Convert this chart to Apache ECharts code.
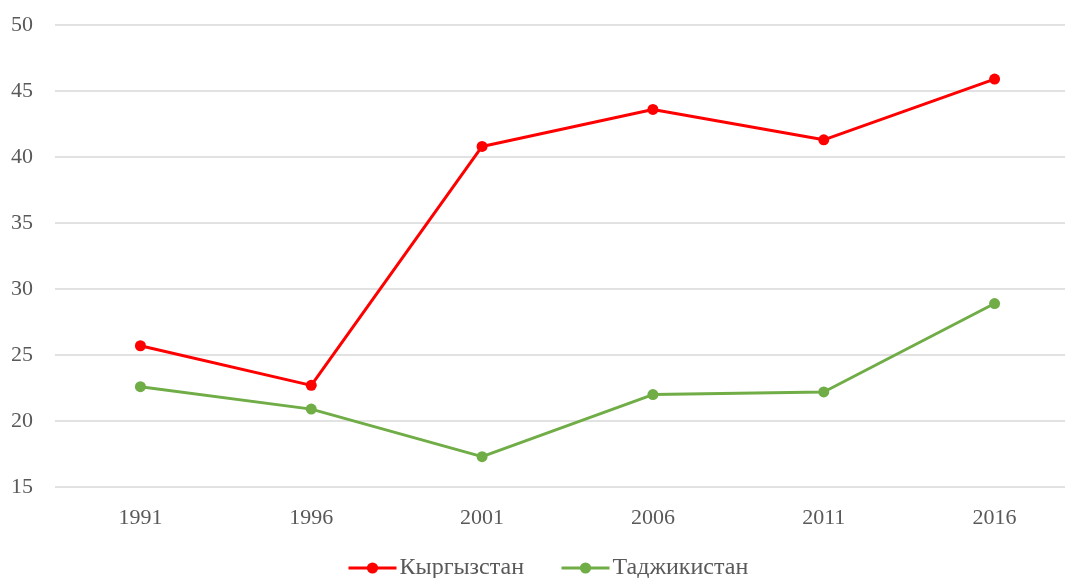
<!DOCTYPE html>
<html><head><meta charset="utf-8">
<script src="https://cdn.jsdelivr.net/npm/echarts@6/dist/echarts.min.js"></script>
<style>html,body{margin:0;padding:0;background:#fff;overflow:hidden}#c{width:1080px;height:578px}</style>
</head><body><div id="c"></div>
<script>
const categories = ['1991','1996','2001','2006','2011','2016'];
const kyrgyzstan = [25.7, 22.7, 40.8, 43.6, 41.3, 45.9];
const tajikistan = [22.6, 20.9, 17.3, 22.0, 22.2, 28.9];
const seriesNames = ['Кыргызстан', 'Таджикистан'];
const yTicks = {min: 15, max: 50, interval: 5};

const font = '"Liberation Serif", "Times New Roman", serif';
const chart = echarts.init(document.getElementById('c'));
chart.setOption({
  animation: false,
  backgroundColor: '#fff',
  grid: {left: 55, top: 25, right: 0, height: 462},
  legend: {
    top: 551, left: 342, itemWidth: 48, itemHeight: 14, itemGap: 36,
    lineStyle: {width: 3},
    textStyle: {fontFamily: font, fontSize: 24, color: '#595959', padding: [0,0,0,-2]},
    data: seriesNames
  },
  xAxis: {
    type: 'category', data: categories, boundaryGap: true,
    axisLine: {show: false}, axisTick: {show: false},
    axisLabel: {fontFamily: font, fontSize: 22, color: '#595959', margin: 20}
  },
  yAxis: {
    type: 'value', min: yTicks.min, max: yTicks.max, interval: yTicks.interval,
    axisLine: {show: false}, axisTick: {show: false},
    axisLabel: {fontFamily: font, fontSize: 22, color: '#595959', margin: 22},
    splitLine: {lineStyle: {color: '#d9d9d9', width: 1.5}}
  },
  series: [
    {name: seriesNames[0], type: 'line', data: kyrgyzstan, symbol: 'circle', symbolSize: 11,
     color: '#ff0000', lineStyle: {width: 3, color: '#ff0000'}, itemStyle: {color: '#ff0000'}},
    {name: seriesNames[1], type: 'line', data: tajikistan, symbol: 'circle', symbolSize: 11,
     color: '#70ad47', lineStyle: {width: 3, color: '#70ad47'}, itemStyle: {color: '#70ad47'}}
  ]
});
</script></body></html>
